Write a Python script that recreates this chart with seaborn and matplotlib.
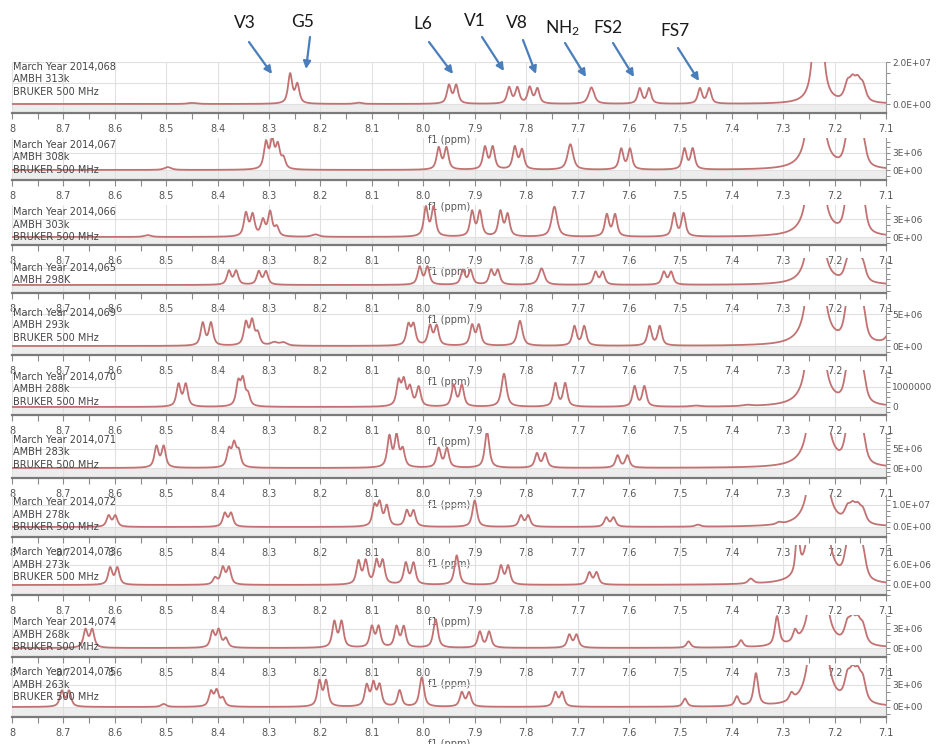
import numpy as np
import pandas as pd
import matplotlib
matplotlib.use("Agg")
import matplotlib.pyplot as plt
from matplotlib.ticker import FixedLocator, MultipleLocator
import seaborn as sns

sns.set_theme(style="white")
plt.rcParams["font.family"] = ["DejaVu Sans"]
plt.rcParams["mathtext.default"] = "regular"

W, H = 939, 744

# ---------------- axis values ----------------
XTICKS = [8.8, 8.7, 8.6, 8.5, 8.4, 8.3, 8.2, 8.1, 8.0, 7.9, 7.8, 7.7, 7.6, 7.5, 7.4, 7.3, 7.2, 7.1]
XTICK_LABELS = ["8", "8.7", "8.6", "8.5", "8.4", "8.3", "8.2", "8.1", "8.0", "7.9", "7.8",
                "7.7", "7.6", "7.5", "7.4", "7.3", "7.2", "7.1"]

RUN_IDS = ["068", "067", "066", "065", "069", "070", "071", "072", "073", "074", "075"]
TEMPS = ["313k", "308k", "303k", "298K", "293k", "288k", "283k", "278k", "273k", "268k", "263k"]

# ---------------- peak lists: (shift ppm, height, half width ppm) ----------------
PEAKS_068 = [(8.450, 0.5e6, 0.010), (8.259, 14.0e6, 0.0048), (8.245, 9.0e6, 0.0048),
             (8.126, 0.6e6, 0.008), (7.950, 8.6e6, 0.0048), (7.936, 8.6e6, 0.0048),
             (7.833, 7.6e6, 0.0048), (7.817, 7.4e6, 0.0048), (7.793, 7.6e6, 0.0048),
             (7.778, 7.0e6, 0.0048), (7.673, 7.8e6, 0.0065), (7.579, 7.2e6, 0.0048),
             (7.561, 7.2e6, 0.0048), (7.462, 7.2e6, 0.0048), (7.444, 7.2e6, 0.0048),
             (7.175, 7.5e6, 0.007), (7.165, 8.0e6, 0.007), (7.155, 8.0e6, 0.007),
             (7.145, 7.0e6, 0.007)]
PEAKS_067 = [(8.497, 0.5e6, 0.008), (8.306, 4.6e6, 0.0048), (8.294, 4.8e6, 0.0048),
             (8.283, 4.0e6, 0.0048), (8.272, 1.8e6, 0.0048), (7.970, 3.8e6, 0.0048),
             (7.955, 3.8e6, 0.0048), (7.880, 3.9e6, 0.0048), (7.865, 3.9e6, 0.0048),
             (7.822, 3.9e6, 0.0048), (7.808, 3.4e6, 0.0048), (7.714, 4.5e6, 0.0065),
             (7.615, 3.6e6, 0.0048), (7.598, 3.6e6, 0.0048), (7.492, 3.6e6, 0.0048),
             (7.476, 3.6e6, 0.0048), (7.175, 4.5e6, 0.007), (7.165, 4.8e6, 0.007),
             (7.155, 4.8e6, 0.007), (7.145, 4.3e6, 0.007)]
PEAKS_066 = [(8.536, 0.3e6, 0.008), (8.345, 3.8e6, 0.0048), (8.332, 3.5e6, 0.0048),
             (8.312, 2.6e6, 0.0048), (8.298, 4.0e6, 0.0048), (8.285, 1.5e6, 0.0048),
             (8.210, 0.4e6, 0.008), (7.995, 4.8e6, 0.0048), (7.980, 4.8e6, 0.0048),
             (7.905, 4.1e6, 0.0048), (7.890, 4.1e6, 0.0048), (7.850, 4.1e6, 0.0048),
             (7.836, 3.6e6, 0.0048), (7.745, 5.0e6, 0.0065), (7.643, 3.6e6, 0.0048),
             (7.627, 3.6e6, 0.0048), (7.512, 3.8e6, 0.0048), (7.494, 3.8e6, 0.0048),
             (7.175, 5.5e6, 0.007), (7.165, 5.5e6, 0.007), (7.155, 5.5e6, 0.007),
             (7.145, 5.0e6, 0.007)]
PEAKS_065 = [(8.378, 2.4e6, 0.0048), (8.364, 2.4e6, 0.0048), (8.320, 2.3e6, 0.0048),
             (8.306, 2.3e6, 0.0048), (8.007, 3.1e6, 0.0048), (7.992, 3.1e6, 0.0048),
             (7.923, 2.5e6, 0.0048), (7.908, 2.5e6, 0.0048), (7.868, 2.5e6, 0.0048),
             (7.855, 2.5e6, 0.0048), (7.770, 2.9e6, 0.0065), (7.665, 2.2e6, 0.0048),
             (7.651, 2.2e6, 0.0048), (7.532, 2.2e6, 0.0048), (7.518, 2.2e6, 0.0048),
             (7.175, 3.0e6, 0.007), (7.165, 3.2e6, 0.007), (7.155, 3.2e6, 0.007),
             (7.145, 2.9e6, 0.007)]
PEAKS_069 = [(8.429, 3.5e6, 0.0048), (8.413, 3.5e6, 0.0048), (8.345, 3.5e6, 0.0048),
             (8.333, 3.7e6, 0.0048), (8.322, 1.8e6, 0.0048), (8.290, 0.5e6, 0.008),
             (8.272, 0.5e6, 0.008), (8.029, 3.1e6, 0.0048), (8.019, 3.1e6, 0.0048),
             (7.987, 3.0e6, 0.0048), (7.974, 3.0e6, 0.0048), (7.905, 3.1e6, 0.0048),
             (7.892, 3.1e6, 0.0048), (7.812, 3.9e6, 0.0058), (7.706, 3.0e6, 0.0048),
             (7.687, 3.0e6, 0.0048), (7.560, 3.0e6, 0.0048), (7.540, 3.0e6, 0.0048),
             (7.175, 5.0e6, 0.007), (7.165, 5.0e6, 0.007), (7.155, 5.0e6, 0.007),
             (7.145, 4.5e6, 0.007), (7.085, 6.0e6, 0.008)]
PEAKS_070 = [(8.476, 1.1e6, 0.0048), (8.462, 1.1e6, 0.0048), (8.360, 1.15e6, 0.0048),
             (8.351, 1.25e6, 0.0048), (8.341, 0.55e6, 0.0048), (8.048, 1.2e6, 0.0048),
             (8.038, 1.2e6, 0.0048), (8.026, 0.9e6, 0.0048), (8.009, 0.95e6, 0.0048),
             (7.941, 1.05e6, 0.0048), (7.925, 1.05e6, 0.0048), (7.843, 1.65e6, 0.0058),
             (7.743, 1.15e6, 0.0048), (7.724, 1.15e6, 0.0048), (7.589, 1.0e6, 0.0048),
             (7.570, 1.0e6, 0.0048), (7.470, 0.05e6, 0.010), (7.370, 0.06e6, 0.010),
             (7.175, 1.4e6, 0.007), (7.165, 1.5e6, 0.007), (7.155, 1.5e6, 0.007),
             (7.145, 1.3e6, 0.007)]
PEAKS_071 = [(8.519, 5.5e6, 0.0048), (8.505, 5.5e6, 0.0048), (8.378, 4.5e6, 0.0048),
             (8.368, 5.8e6, 0.0048), (8.359, 4.0e6, 0.0048), (8.066, 8.0e6, 0.0048),
             (8.052, 8.0e6, 0.0048), (8.040, 4.5e6, 0.0048), (7.970, 5.0e6, 0.0048),
             (7.954, 5.0e6, 0.0048), (7.876, 9.5e6, 0.0052), (7.779, 3.7e6, 0.0048),
             (7.763, 3.7e6, 0.0048), (7.622, 3.2e6, 0.0048), (7.603, 3.2e6, 0.0048),
             (7.175, 7.0e6, 0.007), (7.165, 7.5e6, 0.007), (7.155, 7.5e6, 0.007),
             (7.145, 6.5e6, 0.007)]
PEAKS_072 = [(8.612, 5.0e6, 0.0048), (8.599, 5.0e6, 0.0048), (8.386, 6.0e6, 0.0048),
             (8.374, 6.0e6, 0.0048), (8.095, 9.0e6, 0.0048), (8.085, 10.0e6, 0.0048),
             (8.071, 9.0e6, 0.0048), (8.032, 7.0e6, 0.0048), (8.019, 7.0e6, 0.0048),
             (7.900, 12.0e6, 0.0052), (7.810, 5.0e6, 0.0048), (7.796, 5.0e6, 0.0048),
             (7.644, 4.1e6, 0.0048), (7.630, 4.1e6, 0.0048), (7.466, 0.9e6, 0.006),
             (7.308, 0.9e6, 0.006), (7.175, 5.5e6, 0.007), (7.165, 6.0e6, 0.007),
             (7.155, 6.0e6, 0.007), (7.145, 5.5e6, 0.007)]
PEAKS_073 = [(8.609, 5.0e6, 0.0048), (8.595, 5.0e6, 0.0048), (8.405, 2.0e6, 0.0048),
             (8.390, 5.0e6, 0.0048), (8.378, 5.0e6, 0.0048), (8.126, 6.8e6, 0.0048),
             (8.112, 6.8e6, 0.0048), (8.091, 6.8e6, 0.0048), (8.079, 6.8e6, 0.0048),
             (8.034, 6.3e6, 0.0048), (8.019, 6.3e6, 0.0048), (7.935, 8.8e6, 0.0052),
             (7.849, 5.5e6, 0.0048), (7.835, 5.5e6, 0.0048), (7.677, 3.6e6, 0.0048),
             (7.663, 3.6e6, 0.0048), (7.363, 1.5e6, 0.006), (7.272, 14.0e6, 0.004),
             (7.175, 8.0e6, 0.007), (7.165, 8.5e6, 0.007), (7.155, 8.5e6, 0.007),
             (7.145, 7.5e6, 0.007)]
PEAKS_074 = [(8.657, 2.8e6, 0.0048), (8.644, 2.8e6, 0.0048), (8.410, 2.5e6, 0.0048),
             (8.398, 2.7e6, 0.0048), (8.384, 1.4e6, 0.0048), (8.173, 4.0e6, 0.0048),
             (8.159, 4.0e6, 0.0048), (8.100, 3.2e6, 0.0048), (8.087, 3.2e6, 0.0048),
             (8.052, 3.2e6, 0.0048), (8.038, 3.2e6, 0.0048), (7.976, 4.5e6, 0.0052),
             (7.890, 2.5e6, 0.0048), (7.872, 2.5e6, 0.0048), (7.716, 2.0e6, 0.0048),
             (7.702, 2.0e6, 0.0048), (7.484, 1.0e6, 0.0048), (7.382, 1.1e6, 0.0048),
             (7.312, 4.6e6, 0.0052), (7.277, 1.7e6, 0.0048), (7.175, 2.7e6, 0.007),
             (7.165, 2.9e6, 0.007), (7.155, 2.9e6, 0.007), (7.145, 2.6e6, 0.007)]
PEAKS_075 = [(8.703, 2.1e6, 0.0048), (8.689, 2.1e6, 0.0048), (8.505, 0.4e6, 0.006),
             (8.413, 2.0e6, 0.0048), (8.402, 2.1e6, 0.0048), (8.390, 1.1e6, 0.0048),
             (8.202, 3.4e6, 0.0048), (8.189, 3.4e6, 0.0048), (8.110, 2.8e6, 0.0048),
             (8.097, 3.0e6, 0.0048), (8.085, 2.8e6, 0.0048), (8.046, 2.2e6, 0.0048),
             (8.003, 4.0e6, 0.0052), (7.925, 1.9e6, 0.0048), (7.911, 1.9e6, 0.0048),
             (7.743, 1.9e6, 0.0048), (7.730, 1.9e6, 0.0048), (7.491, 1.1e6, 0.0048),
             (7.390, 1.3e6, 0.0048), (7.353, 4.4e6, 0.0052), (7.284, 1.0e6, 0.0048),
             (7.175, 2.9e6, 0.007), (7.165, 3.1e6, 0.007), (7.155, 3.1e6, 0.007),
             (7.145, 2.8e6, 0.007)]

PEAKS = [PEAKS_068, PEAKS_067, PEAKS_066, PEAKS_065, PEAKS_069, PEAKS_070,
         PEAKS_071, PEAKS_072, PEAKS_073, PEAKS_074, PEAKS_075]

# residual solvent line (off scale in every run)
SOLVENT_SHIFT = [7.232, 7.237, 7.237, 7.237, 7.237, 7.237, 7.232, 7.232, 7.232, 7.232, 7.232]
SOLVENT_HEIGHT = [4.0e8, 3.0e8, 2.9e8, 2.55e8, 3.3e8, 1.0e8, 5.9e8, 9.3e8, 7.7e8, 2.8e8, 3.07e8]
SOLVENT_HW = 0.003

# right-hand intensity ticks
YTICKS = [[0, 1e7, 2e7], [0, 3e6], [0, 3e6], [0, 3e6], [0, 5e6], [0, 1e6],
          [0, 5e6], [0, 1e7], [0, 6e6], [0, 3e6], [0, 3e6]]
YTICK_LABELS = [["0.0E+00", "", "2.0E+07"], ["0E+00", "3E+06"], ["0E+00", "3E+06"],
                ["", ""], ["0E+00", "5E+06"], ["0", "1000000"], ["0E+00", "5E+06"],
                ["0.0E+00", "1.0E+07"], ["0.0E+00", "6.0E+06"], ["0E+00", "3E+06"],
                ["0E+00", "3E+06"]]
YMINOR = [5e6, 1e6, 1e6, 1e6, 1e6, 2.5e5, 1e6, 2.5e6, 1.5e6, 1e6, 1e6]

# ---------------- panel geometry (pixel rows) ----------------
X_LEFT, X_RIGHT = 12, 886
TOP_PX = [62, 138, 205, 258, 306, 370, 433, 495, 545, 615, 665]
AXIS_PX = [113, 180, 245, 293, 355, 415, 478, 537, 595, 657, 717]
ZERO_PX = [104, 170, 237, 285, 346, 407, 468, 527, 585, 648, 707]
REF_PX = [62, 153, 219, 268, 314, 387, 449, 505, 565, 629, 685]
TEXT_PX = [67, 145, 212, 268, 313, 377, 440, 502, 552, 622, 672]

LINE_COLOR = "#c27272"
ARROW_COLOR = "#4a7ebb"


def spectrum(ppm, peaks, s_shift, s_height):
    """Sum of pseudo-Voigt lines plus the residual solvent Lorentzian."""
    y = np.zeros_like(ppm)
    eta = 0.75
    for c, h, w in peaks:
        d = ppm - c
        y += h * (eta * w ** 2 / (d ** 2 + w ** 2) + (1 - eta) * np.exp(-np.log(2) * d ** 2 / w ** 2))
    d = ppm - s_shift
    y += s_height * SOLVENT_HW ** 2 / (d ** 2 + SOLVENT_HW ** 2)
    return y


fig = plt.figure(figsize=(W / 100, H / 100), dpi=100)
fig.patch.set_facecolor("white")

ppm = np.linspace(8.8, 7.1, 3401)
minor_x = [v - 0.05 for v in XTICKS[:-1]]

for i in range(len(RUN_IDS)):
    top, axis_px, zero, ref = TOP_PX[i], AXIS_PX[i], ZERO_PX[i], REF_PX[i]
    per_px = YTICKS[i][-1] / (zero - ref)
    ylo = -(axis_px - zero) * per_px
    yhi = (zero - top) * per_px

    ax = fig.add_axes([X_LEFT / W, 1 - axis_px / H, (X_RIGHT - X_LEFT) / W, (axis_px - top) / H])
    ax.set_facecolor("none")
    ax.axhspan(ylo, 0, color="#ededed", lw=0, zorder=0)

    df = pd.DataFrame({"ppm": ppm,
                       "intensity": spectrum(ppm, PEAKS[i], SOLVENT_SHIFT[i], SOLVENT_HEIGHT[i])})
    sns.lineplot(data=df, x="ppm", y="intensity", ax=ax, color=LINE_COLOR, lw=1.3,
                 estimator=None, sort=False, zorder=3)

    ax.set_xlim(8.8, 7.1)
    ax.set_ylim(ylo, yhi)
    ax.set_xticks(XTICKS)
    ax.set_xticklabels(XTICK_LABELS)
    ax.xaxis.set_minor_locator(FixedLocator(minor_x))
    ax.yaxis.tick_right()
    ax.set_yticks(YTICKS[i])
    ax.set_yticklabels(YTICK_LABELS[i])
    ax.yaxis.set_minor_locator(MultipleLocator(YMINOR[i]))
    ax.grid(True, which="major", color="#e0e0e0", lw=0.8, zorder=1)

    for side in ("left", "top"):
        ax.spines[side].set_visible(False)
    ax.spines["bottom"].set_color("#7a7a7a")
    ax.spines["bottom"].set_linewidth(1.6)
    ax.spines["right"].set_color("#9a9a9a")
    ax.spines["right"].set_linewidth(0.8)

    ax.tick_params(axis="x", which="both", bottom=True, direction="out", length=4, width=0.8,
                   color="#8a8a8a", labelsize=7, labelcolor="#555555", pad=4)
    ax.tick_params(axis="y", which="both", right=True, left=False, direction="out", length=3,
                   width=0.7, color="#8a8a8a", labelsize=6.5, labelcolor="#555555", pad=1.5)

    ax.set_ylabel("")
    ax.set_xlabel("f1 (ppm)", fontsize=7, color="#555555")
    ax.xaxis.set_label_coords(0.5, -22 / (axis_px - top))

    ty = TEXT_PX[i]
    lines = [f"March Year 2014,{RUN_IDS[i]}", f"AMBH {TEMPS[i]}", "BRUKER 500 MHz"]
    if i == 3:
        lines = lines[:2]
    for k, txt in enumerate(lines):
        fig.text(13 / W, 1 - (ty + 12.5 * k) / H, txt, ha="left", va="center",
                 fontsize=7, color="#444444")

# residue labels with arrows
ov = fig.add_axes([0, 0, 1, 1], facecolor="none")
ov.set_xlim(0, W)
ov.set_ylim(H, 0)
ov.axis("off")

LABELS = ["V3", "G5", "L6", "V1", "V8", "NH$_2$", "FS2", "FS7"]
LABEL_XY = [(245, 23), (303, 22), (423, 24), (475, 21), (517, 23), (563, 28), (608, 28), (675, 31)]
ARROW_FROM = [(249, 42), (310, 37), (429, 42), (482, 37), (523, 40), (565, 43), (613, 43), (678, 48)]
ARROW_TO = [(272, 74), (306, 69), (453, 74), (504, 71), (536, 74), (586, 77), (634, 77), (699, 81)]

for lab, (lx, ly), src, dst in zip(LABELS, LABEL_XY, ARROW_FROM, ARROW_TO):
    ov.text(lx, ly, lab, ha="center", va="center", fontsize=12.5, color="#1a1a1a",
            family=["Lato", "DejaVu Sans"])
    ov.annotate("", xy=dst, xytext=src,
                arrowprops=dict(arrowstyle="-|>", color=ARROW_COLOR, lw=1.6,
                                mutation_scale=11, shrinkA=0, shrinkB=0))

fig.savefig("out.png", dpi=100)
